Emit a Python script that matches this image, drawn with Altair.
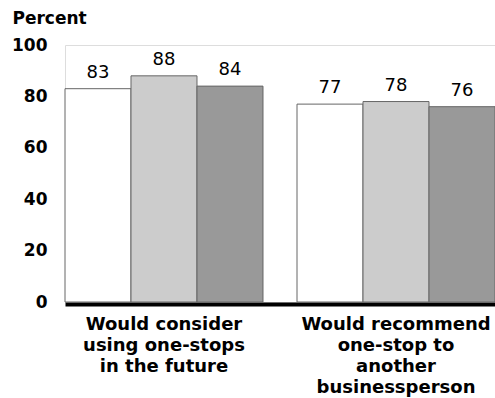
import altair as alt
import pandas as pd

categories = ["Would consider|using one-stops|in the future",
              "Would recommend|one-stop to|another|businessperson"]
series = ["Series 1", "Series 2", "Series 3"]
values_consider = [83, 88, 84]
values_recommend = [77, 78, 76]
colors = ["#ffffff", "#cccccc", "#999999"]

rows = []
for s, v in zip(series, values_consider):
    rows.append({"cat": categories[0], "series": s, "value": v})
for s, v in zip(series, values_recommend):
    rows.append({"cat": categories[1], "series": s, "value": v})
df = pd.DataFrame(rows)

FONT = "DejaVu Sans"

x = alt.X("cat:N", sort=categories, title=None,
          scale=alt.Scale(paddingInner=0.1466, paddingOuter=0),
          axis=alt.Axis(labelExpr="split(datum.label, '|')", labelAngle=0,
                        labelFont=FONT, labelFontSize=18, labelFontWeight="bold",
                        labelColor="black", labelPadding=11, labelLineHeight=21,
                        labelBaseline="top", offset=2, labelLimit=400,
                        labelOverlap=False,
                        ticks=False, domainColor="black", domainWidth=4))
xo = alt.XOffset("series:N", sort=series, scale=alt.Scale(paddingInner=0, paddingOuter=0))
y = alt.Y("value:Q", scale=alt.Scale(domain=[0, 100], nice=False),
          axis=alt.Axis(values=[0, 20, 40, 60, 80, 100], grid=False, ticks=False, domain=False,
                        labelFont=FONT, labelFontSize=17, labelFontWeight="bold",
                        labelColor="black", labelPadding=18,
                        title="Percent", titleAngle=0, titleAlign="left",
                        titleBaseline="alphabetic", titleX=-53, titleY=-22,
                        titleFont=FONT, titleFontSize=17, titleFontWeight="bold",
                        titleColor="black"))

base = alt.Chart(df)
bars = base.mark_bar(stroke="#666666", strokeWidth=1).encode(
    x=x, xOffset=xo, y=y,
    fill=alt.Fill("series:N", sort=series,
                  scale=alt.Scale(domain=series, range=colors), legend=None),
)
text = base.mark_text(font=FONT, fontSize=18, baseline="alphabetic", dy=-11,
                      color="black").encode(
    x=alt.X("cat:N", sort=categories), xOffset=xo, y="value:Q", text="value:Q")

chart = (bars + text).properties(
    width=430, height=257,
    autosize=alt.AutoSizeParams(type="none"),
    padding={"left": 65, "top": 45, "right": 0, "bottom": 96},
).configure_view(stroke=None).configure(background="white")

chart.save("out.html", embed_options={"renderer": "svg", "actions": False})
